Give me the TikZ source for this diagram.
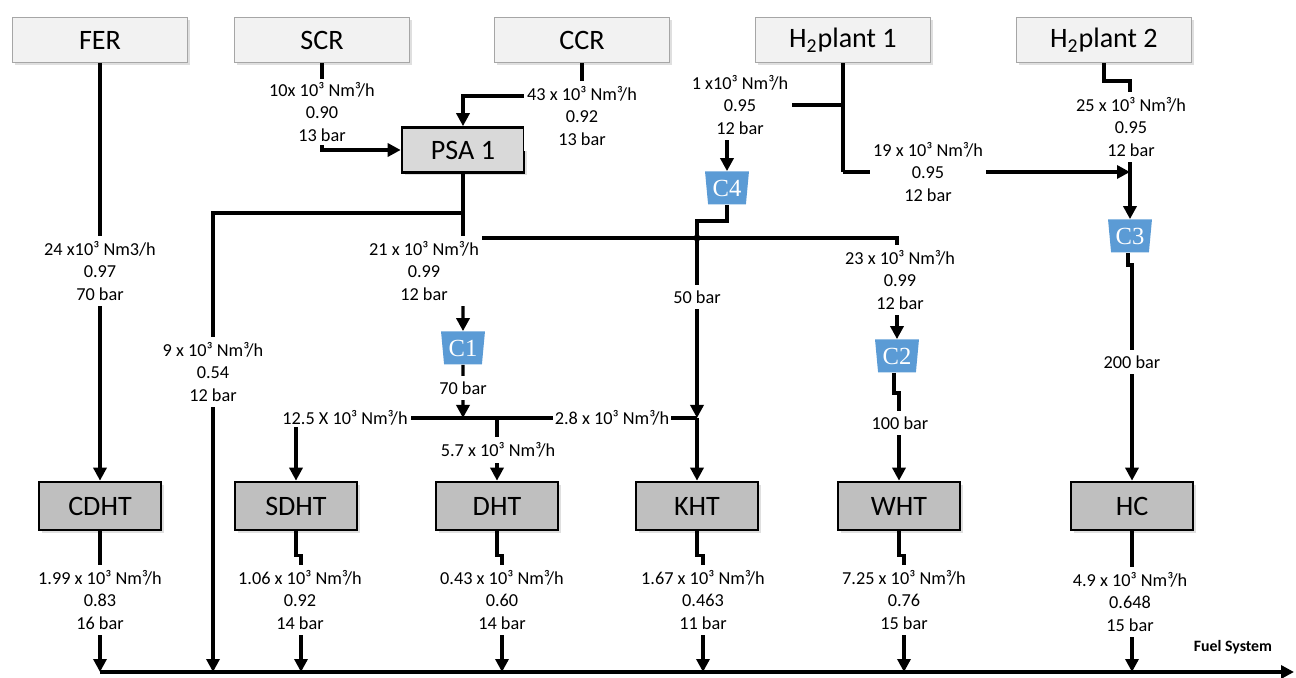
\documentclass[tikz,border=0pt]{standalone}
\usepackage{fontspec}
\setmainfont{Carlito}
\newfontfamily\compfont{Liberation Serif}
\usetikzlibrary{shapes.geometric,arrows.meta,shadows}
\definecolor{srcfill}{HTML}{F2F2F2}
\definecolor{srcline}{HTML}{A6A6A6}
\definecolor{unitfill}{HTML}{BFBFBF}
\definecolor{psafill}{HTML}{D9D9D9}
\definecolor{compfill}{HTML}{5B9BD5}

\begin{document}
\begin{tikzpicture}[
    x=0.02cm, y=-0.02cm,
    >={Triangle[length=0.26cm,width=0.26cm]},
    flow/.style={line width=1.9pt},
    srcbox/.style={draw=srcline, fill=srcfill, minimum width=3.5cm, minimum height=0.9cm, font=\fontsize{16}{18}\selectfont, drop shadow={opacity=0.25, shadow xshift=1.5pt, shadow yshift=-1.5pt}},
    unitbox/.style={draw, line width=1.5pt, fill=unitfill, minimum width=2.44cm, minimum height=0.96cm, font=\fontsize{16}{18}\selectfont, drop shadow={opacity=0.25, shadow xshift=1.5pt, shadow yshift=-1.5pt}},
    compbox/.style={trapezium, shape border rotate=180, trapezium stretches=true, trapezium angle=82, fill=compfill, text=white, minimum width=0.88cm, minimum height=0.66cm, inner sep=0pt, font=\compfont\fontsize{14}{16}\selectfont},
    flowlbl/.style={fill=white, align=center, inner xsep=2pt, inner ysep=3pt, font=\fontsize{10.4}{13}\selectfont}
  ]
  \useasboundingbox (0,0) rectangle (1296,678);

  \node[srcbox] (FER) at (100,40) {FER};
  \node[srcbox] (SCR) at (322,40) {SCR};
  \node[srcbox] (CCR) at (582,40) {CCR};
  \node[srcbox] (H2a) at (843,40) {H\textsubscript{2}plant 1};
  \node[srcbox] (H2b) at (1104,40) {H\textsubscript{2}plant 2};

  \node[unitbox, fill=psafill, minimum height=0.9cm] (PSA) at (463,150) {PSA 1};

  \node[compbox] (C4) at (727,188) {C4};
  \node[compbox] (C1) at (463,348) {C1};
  \node[compbox] (C2) at (897,356) {C2};
  \node[compbox] (C3) at (1130,236) {C3};

  \node[unitbox] (CDHT) at (100,506) {CDHT};
  \node[unitbox] (SDHT) at (296,506) {SDHT};
  \node[unitbox] (DHT) at (497,506) {DHT};
  \node[unitbox] (KHT) at (697,506) {KHT};
  \node[unitbox] (WHT) at (899,506) {WHT};
  \node[unitbox] (HC) at (1132,506) {HC};

  \coordinate (ccrturn) at (463,96);
  \coordinate (psatap) at (463,213);
  \coordinate (psasplit) at (463,238);
  \coordinate (h2tap) at (843,105);
  \coordinate (h2bend) at (843,172);
  \coordinate (c3join) at (1130,172);
  \coordinate (c4junc) at (697,238);
  \coordinate (c1join) at (463,418);
  \coordinate (dhttap) at (497,418);
  \coordinate (khtjoin) at (697,418);
  \coordinate (fstart) at (100,672);
  \coordinate (fend) at (1294,672);
  \coordinate (fpsa) at (213,672);
  \coordinate (fsdht) at (301,672);
  \coordinate (fdht) at (502,672);
  \coordinate (fkht) at (703,672);
  \coordinate (fwht) at (904,672);
  \coordinate (fhc) at (1132,672);

  \draw[flow,->] (FER) -- (CDHT);
  \draw[flow,->] (SCR) |- (PSA);
  \draw[flow,->] (CCR) |- (ccrturn) -- (PSA);
  \draw[flow] (PSA) -- (psasplit);
  \draw[flow,->] (psatap) -| (fpsa);
  \draw[flow,->] (psasplit) -- (C1);
  \draw[flow,->] (psasplit) -| (C2);
  \draw[flow] (H2a) -- (h2bend);
  \draw[flow,->] (h2bend) -- (c3join);
  \draw[flow,->] (h2tap) -| (C4);
  \draw[flow,->] (H2b.south) -- ++(0,18) -| (C3.north);
  \draw[flow] (C4.south) -- ++(0,16) -| (c4junc);
  \fill (c4junc) circle (2pt);
  \draw[flow,->] (c4junc) -- (khtjoin);
  \draw[flow,->] (khtjoin) -- (KHT);
  \draw[flow,->] (C1) -- (c1join);
  \draw[flow,->] (c1join) -| (SDHT);
  \draw[flow] (c1join) -- (khtjoin);
  \draw[flow,->] (dhttap) -- (DHT);
  \draw[flow,->] ([xshift=-0.06cm]C2.south) -- ++(0,20) -| (WHT);
  \draw[flow,->] ([xshift=-0.04cm]C3.south) -- ++(0,12) -| (HC);

  \draw[flow,->] (CDHT) -- (fstart);
  \draw[flow,->] (SDHT.south) -- ++(0,24) -| (fsdht);
  \draw[flow,->] (DHT.south) -- ++(0,24) -| (fdht);
  \draw[flow,->] (KHT.south) -- ++(0,24) -| (fkht);
  \draw[flow,->] (WHT.south) -- ++(0,24) -| (fwht);
  \draw[flow,->] (HC) -- (fhc);
  \draw[flow,->] (fstart) -- (fend);

  \node[flowlbl] (ferflow) at (100,271) {24 x10³ Nm3/h\\0.97\\70 bar};
  \node[flowlbl, inner ysep=2pt] (scrflow) at (322,112) {10x 10³ Nm³/h\\0.90\\13 bar};
  \node[flowlbl] (ccrflow) at (582,116) {43 x 10³ Nm³/h\\0.92\\13 bar};
  \node[flowlbl] (h2aflow) at (740,105) {1 x10³ Nm³/h\\0.95\\12 bar};
  \node[flowlbl] (h2amain) at (928,172) {19 x 10³ Nm³/h\\0.95\\12 bar};
  \node[flowlbl] (h2bflow) at (1131,127) {25 x 10³ Nm³/h\\0.95\\12 bar};
  \node[flowlbl] (psamain) at (424,271) {21 x 10³ Nm³/h\\0.99\\12 bar};
  \node[flowlbl] (psafuel) at (213,372) {9 x 10³ Nm³/h\\0.54\\12 bar};
  \node[flowlbl] (whtflow) at (900,280) {23 x 10³ Nm³/h\\0.99\\12 bar};
  \node[flowlbl] (c4bar) at (697,297) {50 bar};
  \node[flowlbl] (c1bar) at (463,388) {70 bar};
  \node[flowlbl] (c2bar) at (900,423) {100 bar};
  \node[flowlbl] (c3bar) at (1132,362) {200 bar};
  \node[flowlbl, inner ysep=1pt] (sdhtflow) at (345,418) {12.5 X 10³ Nm³/h};
  \node[flowlbl, inner ysep=1pt, inner xsep=1pt] (khtflow) at (612,418) {2.8 x 10³ Nm³/h};
  \node[flowlbl] (dhtflow) at (498,450) {5.7 x 10³ Nm³/h};

  \node[flowlbl] (cdhtout) at (100,600) {1.99 x 10³ Nm³/h\\0.83\\16 bar};
  \node[flowlbl] (sdhtout) at (300,600) {1.06 x 10³ Nm³/h\\0.92\\14 bar};
  \node[flowlbl] (dhtout) at (502,600) {0.43 x 10³ Nm³/h\\0.60\\14 bar};
  \node[flowlbl] (khtout) at (703,600) {1.67 x 10³ Nm³/h\\0.463\\11 bar};
  \node[flowlbl] (whtout) at (904,600) {7.25 x 10³ Nm³/h\\0.76\\15 bar};
  \node[flowlbl] (hcout) at (1130,602) {4.9 x 10³ Nm³/h\\0.648\\15 bar};
  \node[font=\bfseries\fontsize{9}{11}\selectfont] (fuel) at (1233,647) {Fuel System};
\end{tikzpicture}
\end{document}
